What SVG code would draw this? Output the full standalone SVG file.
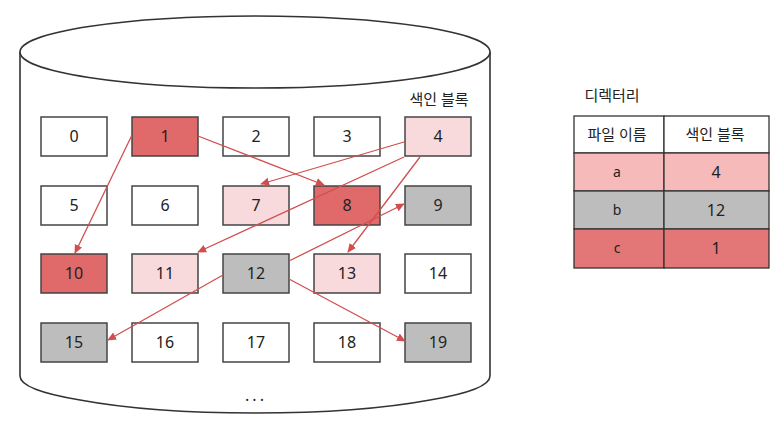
<svg xmlns="http://www.w3.org/2000/svg" width="776" height="439" viewBox="0 0 776 439">
<style>
.cyl{fill:#fff;stroke:#333;stroke-width:1.6}
.b rect{stroke:#444;stroke-width:1.5}
.w{fill:#fff}.r{fill:#e06a6a}.p{fill:#f8d9dc}.g{fill:#bdbdbd}
text{font-family:"Noto Sans","Noto Sans CJK KR",sans-serif;fill:#222;text-anchor:middle}
.n{font-size:16px}
.k{font-size:15px}
.s{font-size:14px}
.e path{fill:none;stroke:#d24e4e;stroke-width:1.3}
.t rect{stroke:#333;stroke-width:1.3}
</style>
<defs>
<marker id="ah" viewBox="0 0 10 10" refX="9" refY="5" markerWidth="9" markerHeight="9" markerUnits="userSpaceOnUse" orient="auto">
<path d="M0,0.5 L10,5 L0,9.5 z" fill="#d24e4e"/>
</marker>
</defs>
<g id="disk">
<path class="cyl" d="M20,52 L20,376 Q20,390 80,400 Q150,413 255,413 Q360,413 430,400 Q490,390 490,376 L490,52"/>
<ellipse class="cyl" cx="255" cy="52" rx="235" ry="36"/>
<text class="k" x="439" y="105">색인 블록</text>
<text class="n" x="256" y="401" style="letter-spacing:3px">...</text>
</g>
<g id="b0" class="b"><rect class="w" x="41" y="117" width="66" height="39"/><text class="n" x="74" y="142">0</text></g>
<g id="b1" class="b"><rect class="r" x="132" y="117" width="66" height="39"/><text class="n" x="165" y="142">1</text></g>
<g id="b2" class="b"><rect class="w" x="223" y="117" width="66" height="39"/><text class="n" x="256" y="142">2</text></g>
<g id="b3" class="b"><rect class="w" x="314" y="117" width="66" height="39"/><text class="n" x="347" y="142">3</text></g>
<g id="b4" class="b"><rect class="p" x="405" y="117" width="66" height="39"/><text class="n" x="438" y="142">4</text></g>
<g id="b5" class="b"><rect class="w" x="41" y="186" width="66" height="39"/><text class="n" x="74" y="211">5</text></g>
<g id="b6" class="b"><rect class="w" x="132" y="186" width="66" height="39"/><text class="n" x="165" y="211">6</text></g>
<g id="b7" class="b"><rect class="p" x="223" y="186" width="66" height="39"/><text class="n" x="256" y="211">7</text></g>
<g id="b8" class="b"><rect class="r" x="314" y="186" width="66" height="39"/><text class="n" x="347" y="211">8</text></g>
<g id="b9" class="b"><rect class="g" x="405" y="186" width="66" height="39"/><text class="n" x="438" y="211">9</text></g>
<g id="b10" class="b"><rect class="r" x="41" y="254" width="66" height="39"/><text class="n" x="74" y="279">10</text></g>
<g id="b11" class="b"><rect class="p" x="132" y="254" width="66" height="39"/><text class="n" x="165" y="279">11</text></g>
<g id="b12" class="b"><rect class="g" x="223" y="254" width="66" height="39"/><text class="n" x="256" y="279">12</text></g>
<g id="b13" class="b"><rect class="p" x="314" y="254" width="66" height="39"/><text class="n" x="347" y="279">13</text></g>
<g id="b14" class="b"><rect class="w" x="405" y="254" width="66" height="39"/><text class="n" x="438" y="279">14</text></g>
<g id="b15" class="b"><rect class="g" x="41" y="323" width="66" height="39"/><text class="n" x="74" y="348">15</text></g>
<g id="b16" class="b"><rect class="w" x="132" y="323" width="66" height="39"/><text class="n" x="165" y="348">16</text></g>
<g id="b17" class="b"><rect class="w" x="223" y="323" width="66" height="39"/><text class="n" x="256" y="348">17</text></g>
<g id="b18" class="b"><rect class="w" x="314" y="323" width="66" height="39"/><text class="n" x="347" y="348">18</text></g>
<g id="b19" class="b"><rect class="g" x="405" y="323" width="66" height="39"/><text class="n" x="438" y="348">19</text></g>
<g id="connectors" class="e">
<path d="M132,135 L75,253" marker-end="url(#ah)"/>
<path d="M198,136 L324,185" marker-end="url(#ah)"/>
<path d="M404,142 L261,184" marker-end="url(#ah)"/>
<path d="M404,157 L198,252" marker-end="url(#ah)"/>
<path d="M420,157 L348,252" marker-end="url(#ah)"/>
<path d="M289,261 L404,204" marker-end="url(#ah)"/>
<path d="M223,275 L108,340" marker-end="url(#ah)"/>
<path d="M289,279 L405,341" marker-end="url(#ah)"/>
</g>
<g id="directory" class="t">
<text class="k" x="612" y="101">디렉터리</text>
<rect fill="#fff" x="574" y="116" width="90" height="37"/>
<rect fill="#fff" x="664" y="116" width="105" height="37"/>
<rect fill="#f6baba" x="574" y="153" width="90" height="38"/>
<rect fill="#f6baba" x="664" y="153" width="105" height="38"/>
<rect fill="#bdbdbd" x="574" y="191" width="90" height="38"/>
<rect fill="#bdbdbd" x="664" y="191" width="105" height="38"/>
<rect fill="#e37777" x="574" y="229" width="90" height="39"/>
<rect fill="#e37777" x="664" y="229" width="105" height="39"/>
<text class="k" x="617" y="140">파일 이름</text>
<text class="k" x="715" y="140">색인 블록</text>
<text class="s" x="617" y="177">a</text>
<text class="n" x="716" y="178">4</text>
<text class="s" x="617" y="215">b</text>
<text class="n" x="716" y="216">12</text>
<text class="s" x="617" y="253">c</text>
<text class="n" x="716" y="254">1</text>
</g>
</svg>
